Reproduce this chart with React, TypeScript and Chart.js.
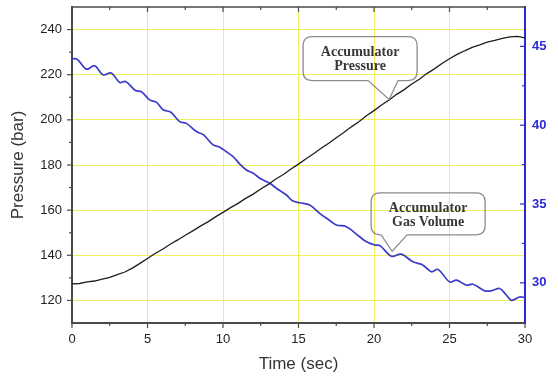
import React, { useEffect, useRef } from "react";
import { Chart, registerables } from "chart.js";

Chart.register(...registerables);

// ---- data ----
const timeSec = [
  0, 0.5, 1, 1.5, 2, 2.5, 3, 3.5, 4, 4.5, 5, 5.5, 6, 6.5, 7, 7.5, 8, 8.5, 9, 9.5,
  10, 10.5, 11, 11.5, 12, 12.5, 13, 13.5, 14, 14.5, 15, 15.5, 16, 16.5, 17, 17.5,
  18, 18.5, 19, 19.5, 20, 20.5, 21, 21.5, 22, 22.5, 23, 23.5, 24, 24.5, 25, 25.5,
  26, 26.5, 27, 27.5, 28, 28.5, 29, 29.5, 30,
];
const pressureBar = [
  127.3, 127.5, 128.2, 128.6, 129.4, 130.2, 131.4, 132.6, 134.3, 136.4, 138.6,
  140.8, 142.7, 144.9, 146.8, 148.9, 150.8, 152.9, 154.8, 157.0, 159.0, 161.1,
  163.0, 165.2, 167.1, 169.4, 171.4, 173.8, 175.8, 178.2, 180.4, 182.8, 185.0,
  187.4, 189.6, 192.1, 194.4, 196.9, 199.2, 201.8, 204.1, 206.6, 208.8, 211.3,
  213.4, 215.9, 218.0, 220.5, 222.6, 225.0, 227.1, 229.0, 230.6, 232.1, 233.2,
  234.4, 235.2, 236.1, 236.8, 237.0, 236.3,
];
const gasTimeSec = [
  0, 0.35, 0.95, 1.5, 2.05, 2.6, 3.16, 3.55, 4.2, 4.6, 5.14, 5.6, 6.03, 6.55, 7.13,
  7.6, 8.24, 8.7, 9.34, 9.75, 10.2, 10.67, 11.1, 11.55, 12.0, 12.5, 13.09, 13.6,
  14.2, 14.6, 15.08, 15.74, 16.4, 17.0, 17.5, 18.17, 19.05, 19.5, 20.05, 20.4,
  21.15, 21.81, 22.58, 23.25, 23.8, 24.24, 25.01, 25.46, 26.12, 26.56, 27.33,
  27.8, 28.32, 28.7, 29.1, 29.65, 30,
];
const gasVolume = [
  44.22, 44.18, 43.56, 43.77, 43.2, 43.31, 42.71, 42.77, 42.2, 42.12, 41.61,
  41.45, 40.98, 40.82, 40.23, 40.1, 39.6, 39.4, 38.75, 38.62, 38.33, 38.0, 37.55,
  37.16, 36.95, 36.6, 36.32, 35.95, 35.57, 35.2, 35.08, 34.94, 34.41, 34.0, 33.67,
  33.56, 32.92, 32.6, 32.4, 32.36, 31.69, 31.82, 31.33, 31.12, 30.7, 30.85, 30.06,
  30.17, 29.85, 29.91, 29.49, 29.5, 29.64, 29.3, 28.89, 29.1, 29.06,
];

const xTicks = [0, 5, 10, 15, 20, 25, 30];
const xMinorTicks = [2.5, 7.5, 12.5, 17.5, 22.5, 27.5];
const pressureTicks = [120, 140, 160, 180, 200, 220, 240];
const pressureMinorTicks = [130, 150, 170, 190, 210, 230];
const volumeTicks = [30, 35, 40, 45];
const volumeMinorTicks = [32.5, 37.5, 42.5];

const calloutText = [
  ["Accumulator", "Pressure"],
  ["Accumulator", "Gas Volume"],
];
const calloutTime = [21, 21.2];
const calloutValue = [209, 32.0];
const calloutAxis = ["y", "y2"];

// ---- styles ----
const SANS = '"Liberation Sans", Arial, sans-serif';
const SERIF = '"Liberation Serif", "Times New Roman", serif';
const GRID_YELLOW = "#f0f060";
const AXIS_DARK = "#4a4a4a";
const BLUE_AXIS = "#2a2ad8";
const BLUE_LINE = "#3b3bc9";

// callout geometry relative to the tip point (pixels)
const calloutGeom = [
  { left: -86, top: -63, w: 114, h: 44, tailL: -21, tailR: 9 },
  { left: -21, top: -58.5, w: 114, h: 42, tailL: -11, tailR: 15 },
];

const noPad = (s: any) => {
  s.paddingTop = 0;
  s.paddingBottom = 0;
  s.paddingLeft = 0;
  s.paddingRight = 0;
};

const decorPlugin = {
  id: "decor",
  afterDatasetsDraw(chart: any) {
    const { ctx, chartArea: a, scales } = chart;
    const xs = scales.x;
    const ys = scales.y;
    const y2s = scales.y2;
    const seg = (x1: number, y1: number, x2: number, y2: number) => {
      ctx.beginPath();
      ctx.moveTo(x1, y1);
      ctx.lineTo(x2, y2);
      ctx.stroke();
    };
    ctx.save();
    // top frame line
    ctx.strokeStyle = AXIS_DARK;
    ctx.lineWidth = 1.5;
    seg(a.left, a.top, a.right, a.top);

    ctx.lineWidth = 1.2;
    ctx.strokeStyle = AXIS_DARK;
    xTicks.forEach((v) => {
      const px = xs.getPixelForValue(v);
      seg(px, a.bottom, px, a.bottom + 5);
      if (v > 0 && v < 30) seg(px, a.top, px, a.top + 5);
    });
    xMinorTicks.forEach((v) => {
      const px = xs.getPixelForValue(v);
      seg(px, a.bottom, px, a.bottom + 3);
      seg(px, a.top, px, a.top + 3);
    });
    pressureTicks.forEach((v) => {
      const py = ys.getPixelForValue(v);
      seg(a.left - 5, py, a.left, py);
    });
    pressureMinorTicks.forEach((v) => {
      const py = ys.getPixelForValue(v);
      seg(a.left - 3, py, a.left, py);
    });
    ctx.strokeStyle = BLUE_AXIS;
    volumeTicks.forEach((v) => {
      const py = y2s.getPixelForValue(v);
      seg(a.right - 5, py, a.right, py);
    });
    volumeMinorTicks.forEach((v) => {
      const py = y2s.getPixelForValue(v);
      seg(a.right - 3, py, a.right, py);
    });

    // callouts
    calloutText.forEach((lines, i) => {
      const g = calloutGeom[i];
      const tx = xs.getPixelForValue(calloutTime[i]);
      const ty = scales[calloutAxis[i]].getPixelForValue(calloutValue[i]);
      const L = tx + g.left;
      const T = ty + g.top;
      const R = L + g.w;
      const B = T + g.h;
      const r = 9;
      ctx.beginPath();
      ctx.moveTo(L + r, T);
      ctx.lineTo(R - r, T);
      ctx.quadraticCurveTo(R, T, R, T + r);
      ctx.lineTo(R, B - r);
      ctx.quadraticCurveTo(R, B, R - r, B);
      ctx.lineTo(tx + g.tailR, B);
      ctx.lineTo(tx, ty);
      ctx.lineTo(tx + g.tailL, B);
      ctx.lineTo(L + r, B);
      ctx.quadraticCurveTo(L, B, L, B - r);
      ctx.lineTo(L, T + r);
      ctx.quadraticCurveTo(L, T, L + r, T);
      ctx.closePath();
      ctx.strokeStyle = "#8c8c8c";
      ctx.lineWidth = 1.3;
      ctx.stroke();
      ctx.fillStyle = "#383838";
      ctx.font = `bold 14px ${SERIF}`;
      ctx.textAlign = "center";
      ctx.textBaseline = "middle";
      const cx = (L + R) / 2;
      ctx.fillText(lines[0], cx, T + 15.5);
      ctx.fillText(lines[1], cx, T + 30);
    });
    ctx.restore();
  },
};

export default function App() {
  const canvasRef = useRef<HTMLCanvasElement | null>(null);

  useEffect(() => {
    if (!canvasRef.current) return;
    const chart = new Chart(canvasRef.current, {
      type: "line",
      data: {
        datasets: [
          {
            label: "Accumulator Pressure",
            data: timeSec.map((t, i) => ({ x: t, y: pressureBar[i] })),
            yAxisID: "y",
            borderColor: "#1e1e1e",
            borderWidth: 1.3,
            pointRadius: 0,
            tension: 0,
          },
          {
            label: "Accumulator Gas Volume",
            data: gasTimeSec.map((t, i) => ({ x: t, y: gasVolume[i] })),
            yAxisID: "y2",
            borderColor: BLUE_LINE,
            borderWidth: 1.7,
            pointRadius: 0,
            tension: 0.35,
          },
        ],
      },
      options: {
        responsive: false,
        animation: false,
        devicePixelRatio: 1,
        layout: { padding: { top: 7, left: 0, right: 0, bottom: 0 } },
        plugins: {
          legend: { display: false },
          tooltip: { enabled: false },
        },
        scales: {
          x: {
            type: "linear",
            min: 0,
            max: 30,
            afterBuildTicks: (s: any) => {
              s.ticks = xTicks.map((v) => ({ value: v }));
            },
            afterFit: (s: any) => {
              s.height = 54;
              noPad(s);
            },
            grid: {
              color: (c: any) =>
                c.tick && (c.tick.value === 0 || c.tick.value === 30)
                  ? "rgba(0,0,0,0)"
                  : GRID_YELLOW,
              lineWidth: 1,
              drawTicks: false,
            },
            border: { color: AXIS_DARK, width: 2 },
            ticks: {
              padding: 9,
              color: "#222",
              font: { family: SANS, size: 13 },
              maxRotation: 0,
              autoSkip: false,
            },
            title: {
              display: true,
              text: "Time (sec)",
              color: "#333",
              font: { family: SANS, size: 17 },
              padding: { top: 0, bottom: 2 },
            },
          },
          y: {
            type: "linear",
            position: "left",
            min: 110,
            max: 250,
            afterBuildTicks: (s: any) => {
              s.ticks = pressureTicks.map((v) => ({ value: v }));
            },
            afterFit: (s: any) => {
              s.width = 72;
              noPad(s);
            },
            grid: { color: GRID_YELLOW, lineWidth: 1, drawTicks: false },
            border: { color: AXIS_DARK, width: 2 },
            ticks: {
              padding: 10,
              color: "#222",
              font: { family: SANS, size: 13 },
            },
            title: {
              display: true,
              text: "Pressure (bar)",
              color: "#333",
              font: { family: SANS, size: 17 },
              padding: { top: 8, bottom: 0 },
            },
          },
          y2: {
            type: "linear",
            position: "right",
            min: 27.45,
            max: 47.5,
            afterBuildTicks: (s: any) => {
              s.ticks = volumeTicks.map((v) => ({ value: v }));
            },
            afterFit: (s: any) => {
              s.width = 33;
              noPad(s);
            },
            grid: { drawOnChartArea: false, drawTicks: false },
            border: { color: BLUE_AXIS, width: 2 },
            ticks: {
              padding: 7,
              color: BLUE_AXIS,
              font: { family: SANS, size: 13, weight: "bold" },
            },
          },
        },
      },
      plugins: [decorPlugin],
    } as any);
    return () => chart.destroy();
  }, []);

  return (
    <div style={{ position: "fixed", left: 0, top: 0, width: 558, height: 377, background: "#fff" }}>
      <canvas ref={canvasRef} width={558} height={377} />
    </div>
  );
}
